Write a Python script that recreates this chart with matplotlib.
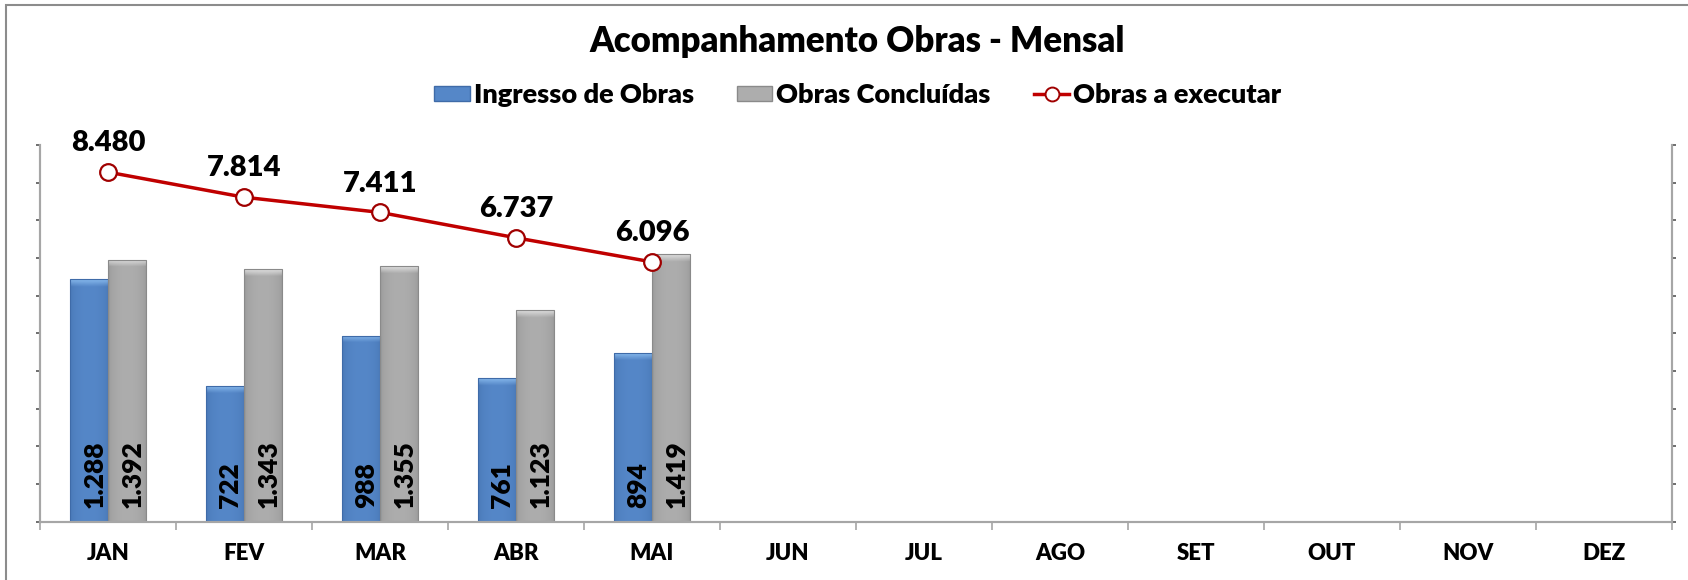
import numpy as np
import matplotlib
matplotlib.use("Agg")
import matplotlib.pyplot as plt
from matplotlib.patches import Patch, Rectangle
from matplotlib.lines import Line2D
from matplotlib.ticker import MultipleLocator, FixedLocator, NullFormatter
from matplotlib.colors import to_rgb

plt.rcParams['font.family'] = ['Lato', 'DejaVu Sans']
WEIGHT = 'heavy'
plt.rcParams['font.weight'] = WEIGHT

# ---- data ----
months = ['JAN', 'FEV', 'MAR', 'ABR', 'MAI', 'JUN', 'JUL', 'AGO', 'SET', 'OUT', 'NOV', 'DEZ']
ingresso = [1288, 722, 988, 761, 894]
concluidas = [1392, 1343, 1355, 1123, 1419]
executar = [8480, 7814, 7411, 6737, 6096]
series_names = ['Ingresso de Obras', 'Obras Concluídas', 'Obras a executar']
title = 'Acompanhamento Obras - Mensal'


def fmt(v):
    return f"{v:,}".replace(',', '.')


W, H = 1688, 580
fig = plt.figure(figsize=(W / 100, H / 100), dpi=100)
ax = fig.add_axes([40 / W, 1 - 521.7 / H, (1672 - 40) / W, (521.7 - 145) / H])
ax2 = ax.twinx()

BLUE = '#5587C8'
BLUE_TOP = '#8EC0F2'
BLUE_EDGE = '#3F6BA8'
GRAY = '#ADADAD'
GRAY_TOP = '#E6E6E6'
GRAY_EDGE = '#8A8A8A'
RED = '#C00000'
AXC = '#A6A6A6'

bw = 0.283
n = len(months)
x = np.arange(n)
xi = np.arange(len(ingresso))

ax.set_xlim(-0.5, n - 0.5)
ax.set_ylim(0, 2000)

b1 = ax.bar(xi - bw / 2, ingresso, width=bw, facecolor='none', edgecolor=BLUE_EDGE, linewidth=0.8, zorder=3)
b2 = ax.bar(xi + bw / 2, concluidas, width=bw, facecolor='none', edgecolor=GRAY_EDGE, linewidth=0.8, zorder=3)

px_per_unit = (521.7 - 145) / 2000.0


def shade(bars, base, top, dark_edge):
    base = np.array(to_rgb(base))
    top = np.array(to_rgb(top))
    dark = np.array(to_rgb(dark_edge))
    for b in bars:
        x0, y0, w, h = b.get_x(), b.get_y(), b.get_width(), b.get_height()
        ncol, nrow = 60, 300
        u = np.linspace(0, 1, ncol)
        prof = np.sin(np.pi * u) ** 0.35
        row = dark[None, :] * (1 - prof[:, None]) * 0.6 + base[None, :] * (0.4 + 0.6 * prof[:, None])
        img = np.repeat(row[None, :, :], nrow, axis=0)
        barpx = h * px_per_unit
        bev = max(1, int(round(7.0 / barpx * nrow)))
        for k in range(bev):
            t = 1 - k / bev
            img[nrow - 1 - k] = img[nrow - 1 - k] * (1 - 0.85 * t) + top[None, :] * 0.85 * t
        im = ax.imshow(img, extent=[x0, x0 + w, y0, y0 + h], origin='lower', aspect='auto',
                       zorder=2, interpolation='bilinear')
        im.set_clip_path(b)


shade(b1, BLUE, BLUE_TOP, '#3A64A0')
shade(b2, GRAY, GRAY_TOP, '#7F7F7F')
ax.set_xlim(-0.5, n - 0.5)
ax.set_ylim(0, 2000)
ax.set_aspect('auto')

for xs, vals in ((xi - bw / 2, ingresso), (xi + bw / 2, concluidas)):
    for xv, v in zip(xs, vals):
        ax.annotate(fmt(v), xy=(xv, 0), xytext=(4, 10), textcoords='offset points',
                    rotation=90, ha='center', va='bottom', fontsize=19,
                    fontweight=WEIGHT, color='black', zorder=5)

# line on secondary axis
ax2.set_ylim(-800, 9200)
ax2.plot(xi, executar, color=RED, linewidth=2.5, marker='o', markersize=12,
         markerfacecolor='white', markeredgecolor='#A00000', markeredgewidth=1.6, zorder=4)
for xv, v in zip(xi, executar):
    ax2.annotate(fmt(v), xy=(xv, v), xytext=(0, 15), textcoords='offset points',
                 ha='center', va='baseline', fontsize=21, fontweight=WEIGHT, color='black')

# axes styling
for a in (ax, ax2):
    a.spines['top'].set_visible(False)
    for s in ('left', 'right', 'bottom'):
        a.spines[s].set_color(AXC)
        a.spines[s].set_linewidth(1.5)

ax.yaxis.set_major_locator(MultipleLocator(200))
ax.yaxis.set_major_formatter(NullFormatter())
ax.tick_params(axis='y', which='major', direction='out', length=3, width=1.2, color='#555555')
ax2.yaxis.set_major_locator(FixedLocator(np.arange(-800, 9201, 1000)))
ax2.yaxis.set_major_formatter(NullFormatter())
ax2.tick_params(axis='y', which='major', direction='out', length=3, width=1.2, color='#555555')

ax.xaxis.set_major_locator(FixedLocator(np.arange(-0.5, n, 1.0)))
ax.xaxis.set_major_formatter(NullFormatter())
ax.xaxis.set_minor_locator(FixedLocator(x))
ax.set_xticklabels(months, minor=True)
ax.tick_params(axis='x', which='major', direction='out', length=6, width=1.2, color=AXC)
ax.tick_params(axis='x', which='minor', length=0, pad=15.5, labelsize=16)
for lab in ax.get_xticklabels(minor=True):
    lab.set_fontweight(WEIGHT)

# title & legend
fig.text(857 / W, 1 - 42 / H, title, ha='center', va='center', fontsize=25, fontweight=WEIGHT)
handles = [
    Patch(facecolor=BLUE, edgecolor=BLUE_EDGE),
    Patch(facecolor=GRAY, edgecolor=GRAY_EDGE),
    Line2D([], [], color=RED, linewidth=2.5, marker='o', markersize=10,
           markerfacecolor='white', markeredgecolor='#A00000', markeredgewidth=1.4),
]
leg = fig.legend(handles, series_names, loc='center', bbox_to_anchor=(858 / W, 1 - 95 / H),
                 ncol=3, frameon=False, handlelength=1.3, handleheight=0.5,
                 handletextpad=0.15, columnspacing=1.6, prop={'weight': WEIGHT, 'size': 19.5})

# outer chart border (top & left visible)
fig.add_artist(Rectangle((6 / W, -0.1), 1.5, 1.1 - 5 / H, transform=fig.transFigure,
                         fill=False, edgecolor='#8C8C8C', linewidth=1.5))

fig.savefig('out.png', dpi=100)
